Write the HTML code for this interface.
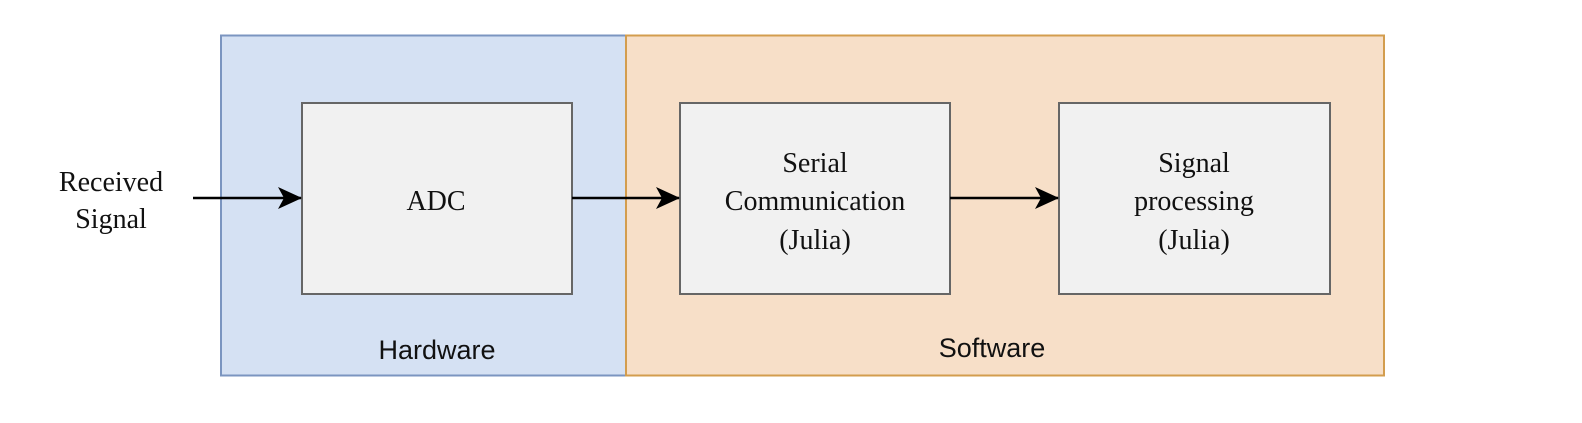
<!DOCTYPE html>
<html><head><style>
body{margin:0;width:1582px;height:418px;background:#fff;overflow:hidden}
</style></head><body>
<svg width="1582" height="418" xmlns="http://www.w3.org/2000/svg">
<defs><marker id="a" markerWidth="24" markerHeight="24" refX="23" refY="12" orient="auto" markerUnits="userSpaceOnUse"><path d="M0,1 L24,12 L0,23 L6,12 Z" fill="#000"/></marker></defs>
<rect x="221" y="35.5" width="405" height="340" fill="#d5e1f3" stroke="#7b95c0" stroke-width="2"/>
<rect x="626" y="35.5" width="758" height="340" fill="#f7dfc8" stroke="#d39d4e" stroke-width="2"/>
<rect x="302" y="103" width="270" height="191" fill="#f1f1f1" stroke="#666" stroke-width="2"/>
<rect x="680" y="103" width="270" height="191" fill="#f1f1f1" stroke="#666" stroke-width="2"/>
<rect x="1059" y="103" width="271" height="191" fill="#f1f1f1" stroke="#666" stroke-width="2"/>
<g stroke="#000" stroke-width="2.5">
<line x1="193" y1="198" x2="301" y2="198" marker-end="url(#a)"/>
<line x1="572" y1="198" x2="679" y2="198" marker-end="url(#a)"/>
<line x1="950" y1="198" x2="1058" y2="198" marker-end="url(#a)"/>
</g>
<g font-family="Liberation Serif, serif" font-size="28" text-anchor="middle" fill="#111">
<text x="111" y="191">Received</text><text x="111" y="228">Signal</text>
<text x="436" y="210">ADC</text>
<text x="815" y="172">Serial</text><text x="815" y="210">Communication</text><text x="815" y="249">(Julia)</text>
<text x="1194" y="172">Signal</text><text x="1194" y="210">processing</text><text x="1194" y="249">(Julia)</text>
</g>
<g font-family="Liberation Sans, sans-serif" font-size="27" text-anchor="middle" fill="#111">
<text x="437" y="359">Hardware</text>
<text x="992" y="357">Software</text>
</g>
</svg>
</body></html>
